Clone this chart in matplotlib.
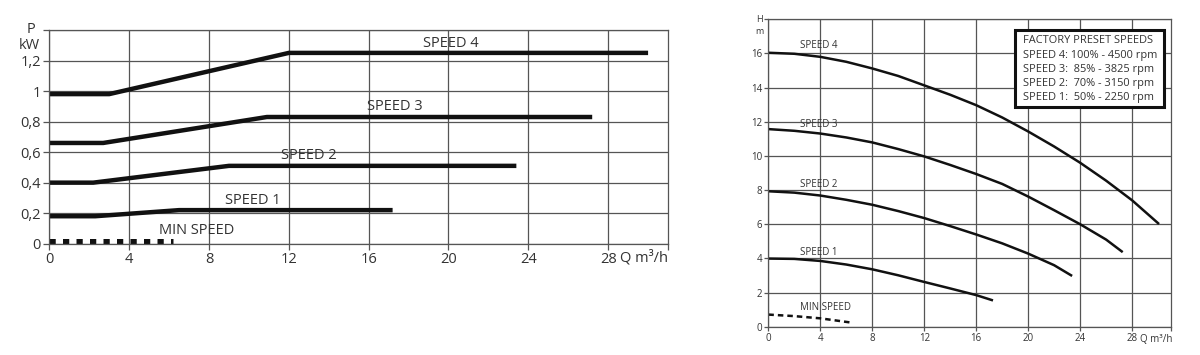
import numpy as np
import matplotlib
matplotlib.use("Agg")
import matplotlib.pyplot as plt
from matplotlib.patches import Rectangle

plt.rcParams['font.family'] = ['Open Sans', 'DejaVu Sans']

# --- power curves (P kW vs Q m3/h) ---
p_speed4_q = [0, 3.0, 12.0, 30.0]
p_speed4 = [0.98, 0.98, 1.25, 1.25]
p_speed3_q = [0, 2.7, 10.9, 27.2]
p_speed3 = [0.66, 0.66, 0.83, 0.83]
p_speed2_q = [0, 2.2, 9.0, 23.4]
p_speed2 = [0.40, 0.40, 0.51, 0.51]
p_speed1_q = [0, 2.3, 6.5, 17.2]
p_speed1 = [0.18, 0.18, 0.22, 0.22]
p_min_q = [0, 6.2]
p_min = [0.02, 0.02]

# --- head curves (H m vs Q m3/h) ---
h_speed4_q = [0, 2, 4, 6, 8, 10, 12, 14, 16, 18, 20, 22, 24, 26, 28, 30.0]
h_speed4 = [16.04, 15.98, 15.8, 15.51, 15.12, 14.68, 14.13, 13.58, 12.97,
            12.25, 11.43, 10.55, 9.6, 8.55, 7.4, 6.06]
h_speed3_q = [0, 2, 4, 6, 8, 10, 12, 14, 16, 18, 20, 22, 24, 26, 27.2]
h_speed3 = [11.57, 11.47, 11.31, 11.08, 10.79, 10.4, 9.97, 9.47, 8.94,
            8.36, 7.62, 6.82, 6.0, 5.1, 4.41]
h_speed2_q = [0, 2, 4, 6, 8, 10, 12, 14, 16, 18, 20, 22, 23.3]
h_speed2 = [7.93, 7.85, 7.68, 7.43, 7.14, 6.77, 6.36, 5.89, 5.4,
            4.88, 4.28, 3.6, 3.01]
h_speed1_q = [0, 2, 4, 6, 8, 10, 12, 14, 16, 17.2]
h_speed1 = [3.99, 3.97, 3.85, 3.64, 3.36, 3.01, 2.62, 2.24, 1.85, 1.56]
h_min_q = [0, 2, 4, 6.3]
h_min = [0.71, 0.62, 0.49, 0.25]

preset_lines = ["FACTORY PRESET SPEEDS",
                "SPEED 4: 100% - 4500 rpm",
                "SPEED 3:  85% - 3825 rpm",
                "SPEED 2:  70% - 3150 rpm",
                "SPEED 1:  50% - 2250 rpm"]

txt = '#333333'
grid_c = '#555555'
ink = '#111111'

fig = plt.figure(figsize=(12, 3.55), dpi=100)

# ---------------- left: power ----------------
ax1 = fig.add_axes([0.0411, 0.3135, 0.5156, 0.602])
ax1.set_xlim(0, 31)
ax1.set_ylim(0, 1.4)
ax1.set_xticks(np.arange(0, 29, 4))
ax1.set_yticks(np.arange(0, 1.41, 0.2))
ax1.set_xticklabels([str(v) for v in range(0, 29, 4)])
ax1.set_yticklabels(['0', '0,2', '0,4', '0,6', '0,8', '1', '1,2', ''])
ax1.set_xticks([31], minor=True)
ax1.grid(True, color=grid_c, lw=0.9)
ax1.tick_params(axis='both', labelsize=10.5, colors=grid_c, labelcolor=txt,
                length=4, width=0.9, pad=2)
ax1.tick_params(axis='x', which='minor', length=4, width=0.9, colors=grid_c)
for s in ax1.spines.values():
    s.set_color(grid_c)
    s.set_linewidth(0.9)

lw_p = 3.2
ax1.plot(p_speed4_q, p_speed4, color=ink, lw=lw_p, solid_capstyle='butt')
ax1.plot(p_speed3_q, p_speed3, color=ink, lw=lw_p, solid_capstyle='butt')
ax1.plot(p_speed2_q, p_speed2, color=ink, lw=lw_p, solid_capstyle='butt')
ax1.plot(p_speed1_q, p_speed1, color=ink, lw=lw_p, solid_capstyle='butt')
ax1.plot(p_min_q, p_min, color=ink, lw=3.6, linestyle=(0, (1.25, 1.45)),
         dash_capstyle='butt')

lab = dict(fontsize=10.5, color=txt, ha='center', va='center')
ax1.text(20.1, 1.31, "SPEED 4", **lab)
ax1.text(17.3, 0.90, "SPEED 3", **lab)
ax1.text(13.0, 0.58, "SPEED 2", **lab)
ax1.text(10.2, 0.28, "SPEED 1", **lab)
ax1.text(7.4, 0.085, "MIN SPEED", **lab)

ax1.text(-0.9, 1.40, "P", fontsize=10.5, color=txt, ha='center', va='center')
ax1.text(-1.0, 1.30, "kW", fontsize=10.5, color=txt, ha='center', va='center')
ax1.text(28.6, -0.095, "Q m³/h", fontsize=10.5, color=txt, ha='left', va='center')

# ---------------- right: head ----------------
ax2 = fig.add_axes([0.6403, 0.0797, 0.3356, 0.866])
ax2.set_xlim(0, 31)
ax2.set_ylim(0, 18)
ax2.set_xticks(np.arange(0, 29, 4))
ax2.set_yticks(np.arange(0, 19, 2))
ax2.set_xticklabels([str(v) for v in range(0, 29, 4)])
ax2.set_yticklabels([str(v) for v in range(0, 17, 2)] + [''])
ax2.set_xticks([31], minor=True)
ax2.grid(True, color=grid_c, lw=0.9)
ax2.tick_params(axis='both', labelsize=7, colors=grid_c, labelcolor=txt,
                length=3, width=0.9, pad=1.5)
ax2.tick_params(axis='x', which='minor', length=3, width=0.9, colors=grid_c)
for s in ax2.spines.values():
    s.set_color(grid_c)
    s.set_linewidth(0.9)

lw_h = 1.8
ax2.plot(h_speed4_q, h_speed4, color=ink, lw=lw_h)
ax2.plot(h_speed3_q, h_speed3, color=ink, lw=lw_h)
ax2.plot(h_speed2_q, h_speed2, color=ink, lw=lw_h)
ax2.plot(h_speed1_q, h_speed1, color=ink, lw=lw_h)
ax2.plot(h_min_q, h_min, color=ink, lw=1.8, linestyle=(0, (2.2, 1.6)))

lab2 = dict(fontsize=7, color=txt, ha='left', va='center')
ax2.text(2.4, 16.47, "SPEED 4", **lab2)
ax2.text(2.4, 11.86, "SPEED 3", **lab2)
ax2.text(2.4, 8.30, "SPEED 2", **lab2)
ax2.text(2.4, 4.34, "SPEED 1", **lab2)
ax2.text(2.4, 1.13, "MIN SPEED", **lab2)

ax2.text(-0.7, 18.0, "H", fontsize=6.5, color=txt, ha='center', va='center')
ax2.text(-0.7, 17.3, "m", fontsize=6.5, color=txt, ha='center', va='center')
ax2.text(28.6, -0.72, "Q m³/h", fontsize=7, color=txt, ha='left', va='center')

# preset box
ax2.add_patch(Rectangle((18.96, 12.87), 11.52, 4.49, facecolor='white',
                        edgecolor=ink, linewidth=2.2, zorder=4))
box_y = [16.76, 15.9, 15.07, 14.23, 13.42]
for line, yy in zip(preset_lines, box_y):
    ax2.text(19.6, yy, line, fontsize=7.9, color=txt, ha='left',
             va='center', zorder=5)

fig.savefig("out.png", dpi=100, facecolor='white')
